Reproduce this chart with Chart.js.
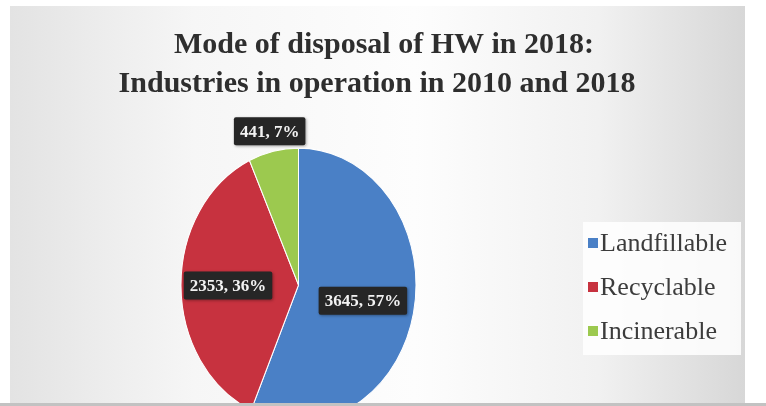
<!DOCTYPE html>
<html>
<head>
<meta charset="utf-8">
<script src="https://cdn.jsdelivr.net/npm/chart.js@4"></script>
<style>
  html, body { margin: 0; padding: 0; background: #fff; }
  #wrap { width: 766px; height: 406px; position: relative; }
</style>
</head>
<body>
<div id="wrap"><canvas id="disposalPie"></canvas></div>
<script>
const titleLines = ["Mode of disposal of HW in 2018:", "Industries in operation in 2010 and 2018"];
const categories = ["Landfillable", "Recyclable", "Incinerable"];
const tonnes = [3645, 2353, 441];
const percents = [57, 36, 7];
const colors = ["#4a80c6", "#c7323f", "#9cc94f"];

// the slide is squeezed sideways, so the pie comes out taller than wide
const STRETCH = 1.165;
const SLIDE = { left: 10, top: 6, right: 745, bottom: 403 };
const SERIF = "'Liberation Serif', 'DejaVu Serif', serif";

// how far out each value box sits, as a share of the radius
const labelRadius = [0.56, 0.6, 1.15];

const slideBackground = {
  id: "slideBackground",
  beforeDraw(chart) {
    const ctx = chart.ctx;
    ctx.save();
    ctx.fillStyle = "#ffffff";
    ctx.fillRect(0, 0, chart.width, chart.height);
    const g = ctx.createLinearGradient(SLIDE.left, 0, SLIDE.right, 0);
    g.addColorStop(0, "#e3e3e3");
    g.addColorStop(0.25, "#f6f6f6");
    g.addColorStop(0.55, "#fdfdfd");
    g.addColorStop(0.8, "#f1f1f1");
    g.addColorStop(1, "#d7d7d7");
    ctx.fillStyle = g;
    ctx.fillRect(SLIDE.left, SLIDE.top, SLIDE.right - SLIDE.left, SLIDE.bottom - SLIDE.top);
    ctx.fillStyle = "#c2c2c2";
    ctx.fillRect(0, SLIDE.bottom, chart.width, chart.height - SLIDE.bottom);
    ctx.restore();
  }
};

const tallPie = {
  id: "tallPie",
  beforeDatasetsDraw(chart) {
    const arc = chart.getDatasetMeta(0).data[0];
    const ctx = chart.ctx;
    ctx.save();
    ctx.beginPath();
    ctx.rect(SLIDE.left, SLIDE.top, SLIDE.right - SLIDE.left, SLIDE.bottom - SLIDE.top);
    ctx.clip();
    ctx.translate(arc.x, arc.y);
    ctx.scale(1, STRETCH);
    ctx.translate(-arc.x, -arc.y);
  },
  afterDatasetsDraw(chart) {
    chart.ctx.restore();
  }
};

const slideText = {
  id: "slideText",
  afterDraw(chart) {
    const ctx = chart.ctx;
    const meta = chart.getDatasetMeta(0);
    const ds = chart.data.datasets[0];
    ctx.save();

    // title
    ctx.fillStyle = "#2e2e2e";
    ctx.textAlign = "center";
    ctx.textBaseline = "alphabetic";
    ctx.font = "bold 30px " + SERIF;
    ctx.fillText(titleLines[0], 384, 53);
    ctx.fillText(titleLines[1], 377, 92);

    // value boxes
    ctx.font = "bold 17px " + SERIF;
    ctx.textBaseline = "middle";
    meta.data.forEach((arc, i) => {
      const mid = (arc.startAngle + arc.endAngle) / 2;
      const d = arc.outerRadius * labelRadius[i];
      const x = arc.x + Math.cos(mid) * d;
      const y = arc.y + Math.sin(mid) * d * STRETCH;
      const text = `${ds.data[i]}, ${percents[i]}%`;
      const w = ctx.measureText(text).width + 12;
      const h = 28;
      ctx.save();
      ctx.shadowColor = "rgba(0,0,0,0.35)";
      ctx.shadowBlur = 3;
      ctx.shadowOffsetX = 1;
      ctx.shadowOffsetY = 1;
      ctx.fillStyle = "#262626";
      ctx.beginPath();
      ctx.roundRect(x - w / 2, y - h / 2, w, h, 2);
      ctx.fill();
      ctx.restore();
      ctx.fillStyle = "#f2f2f2";
      ctx.textAlign = "center";
      ctx.fillText(text, x, y + 1);
    });

    // legend
    ctx.fillStyle = "rgba(255,255,255,0.85)";
    ctx.fillRect(583, 222, 158, 133);
    ctx.font = "26px " + SERIF;
    ctx.textAlign = "left";
    ctx.textBaseline = "middle";
    chart.data.labels.forEach((label, i) => {
      const y = 243 + i * 44;
      ctx.fillStyle = ds.backgroundColor[i];
      ctx.fillRect(588, y - 5, 10, 10);
      ctx.fillStyle = "#3c3c3c";
      ctx.fillText(label, 600, y + 1);
    });

    ctx.restore();
  }
};

const ctx = document.getElementById("disposalPie").getContext("2d");
const disposalPie = new Chart(ctx, {
  type: "pie",
  data: {
    labels: categories,
    datasets: [{
      data: tonnes,
      backgroundColor: colors,
      borderColor: "#ffffff",
      borderWidth: 1,
      clip: false
    }]
  },
  options: {
    responsive: true,
    maintainAspectRatio: false,
    animation: false,
    events: [],
    layout: { padding: { left: 180, right: 349, top: 167, bottom: 3 } },
    plugins: {
      legend: { display: false },
      title: { display: false },
      tooltip: { enabled: false }
    }
  },
  plugins: [slideBackground, tallPie, slideText]
});
</script>
</body>
</html>
